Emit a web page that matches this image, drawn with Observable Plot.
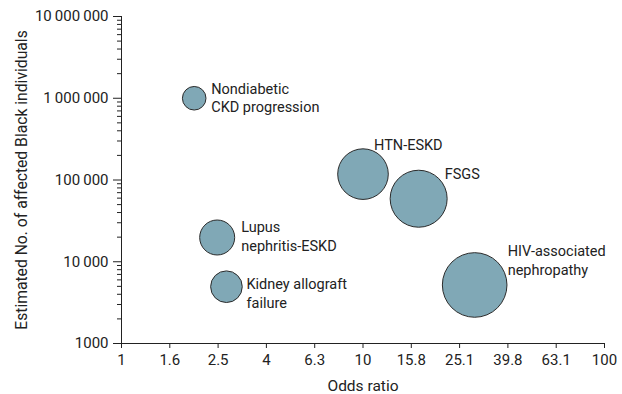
<!DOCTYPE html>
<html><head><meta charset="utf-8">
<script src="https://cdn.jsdelivr.net/npm/d3@7"></script>
<script src="https://cdn.jsdelivr.net/npm/@observablehq/plot@0.6"></script>
<style>body{margin:0;background:#fff}</style>
</head><body><div id="chart"></div>
<script>
const conditions = ["Nondiabetic\nCKD progression", "Lupus\nnephritis-ESKD", "Kidney allograft\nfailure", "HTN-ESKD", "FSGS", "HIV-associated\nnephropathy"];
const oddsRatios = [2.0, 2.49, 2.72, 10, 17, 29];
const affected = [1000000, 19800, 4950, 118000, 59000, 5200];
const bubbleWeight = [139, 306, 250, 640, 812, 1043];

const xDomain = [1, 100];
const yDomain = [1000, 10000000];
const xTickValues = [1, 1.585, 2.512, 3.981, 6.31, 10, 15.85, 25.12, 39.81, 63.1, 100];
const xTickLabels = ["1", "1.6", "2.5", "4", "6.3", "10", "15.8", "25.1", "39.8", "63.1", "100"];
const yTickValues = [1000, 10000, 100000, 1000000, 10000000];
const yTickLabels = ["1000", "10\u2009000", "100\u2009000", "1\u2009000\u2009000", "10\u2009000\u2009000"];
const xTitle = "Odds ratio";
const yTitle = "Estimated No. of affected Black individuals";

// label placement (pixels, relative to bubble centre)
const labelOffsets = [[17, -18], [24, -19], [20, -11], [11, -37], [26, -33], [33, -42]];

const data = conditions.map((c, i) => ({name: c, or: oddsRatios[i], n: affected[i], w: bubbleWeight[i]}));
const yMinor = d3.scaleLog().domain(yDomain).ticks().filter(v => !yTickValues.includes(v));
const ink = "#222";

const chart = Plot.plot({
  width: 622,
  height: 394,
  marginLeft: 121,
  marginRight: 18,
  marginTop: 16,
  marginBottom: 51,
  style: {fontFamily: "Roboto", fontSize: "15px", color: ink, background: "#fff"},
  x: {type: "log", domain: xDomain},
  y: {type: "log", domain: yDomain},
  r: {type: "sqrt", domain: [0, 1043], range: [0, 32.3]},
  marks: [
    Plot.axisY(yMinor, {tickSize: 4, text: null, label: null, stroke: ink}),
    Plot.axisY(yTickValues, {tickSize: 8, tickPadding: 5, stroke: ink, fill: ink,
      tickFormat: v => yTickLabels[yTickValues.indexOf(v)], label: null}),
    Plot.text([yTitle], {frameAnchor: "left", rotate: -90, textAnchor: "middle", lineAnchor: "top",
      dx: -106, fontSize: 15.7, fill: ink}),
    Plot.axisX(xTickValues, {tickSize: 5, text: null, stroke: ink, label: null}),
    Plot.text(xTickValues, {x: d => d, text: (d, i) => xTickLabels[i], frameAnchor: "bottom",
      lineAnchor: "top", dy: 11, fill: ink}),
    Plot.text([xTitle], {frameAnchor: "bottom", lineAnchor: "top", dy: 36, fontSize: 15.5, fill: ink}),
    Plot.ruleX([xDomain[0]], {stroke: ink}),
    Plot.ruleY([yDomain[0]], {stroke: ink}),
    Plot.dot(data, {x: "or", y: "n", r: "w", fill: "#80a8b6", stroke: "#2b2b2b", strokeWidth: 1, fillOpacity: 1}),
    ...data.map((d, i) => Plot.text([d], {x: "or", y: "n", text: "name", textAnchor: "start", lineAnchor: "top",
      lineHeight: 1.3, fontSize: 14.5, dx: labelOffsets[i][0], dy: labelOffsets[i][1], fill: ink}))
  ]
});
document.getElementById("chart").appendChild(chart);
</script>
</body></html>
